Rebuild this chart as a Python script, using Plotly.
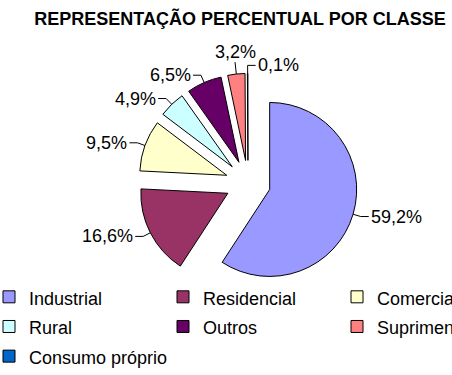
import math
import plotly.graph_objects as go

# Share of consumption by consumer class (%)
categories = ["Industrial", "Residencial", "Comercial", "Rural", "Outros",
              "Suprimento", "Consumo próprio"]
values = [59.2, 16.6, 9.5, 4.9, 6.5, 3.2, 0.1]
colors = ["#9999FF", "#993366", "#FFFFCC", "#CCFFFF", "#660066",
          "#FF8080", "#0066CC"]
title_text = "REPRESENTAÇÃO PERCENTUAL POR CLASSE"

# Canvas: wider than the visible page so the three legend columns keep
# their spacing; the page shows a 452 px window starting at SHIFT.
W, H = 540, 375
VISIBLE_W = 452
SHIFT = 11
M_B = 82
PLOT_H = H - M_B

# Pie geometry in page pixels
CX, CY = 248, 183
R = 87
PULL = 0.26
OUTER = R * (1 + PULL)

FONT = "Liberation Sans, Arial, sans-serif"
LABEL_SIZE = 18


def px_to_paper(x, y):
    return (x + SHIFT) / W, 1 - y / PLOT_H


dom_x = [(CX + SHIFT - OUTER) / W, (CX + SHIFT + OUTER) / W]
dom_y = [1 - (CY + OUTER) / PLOT_H, 1 - (CY - OUTER) / PLOT_H]

legend_names = [f"<span style='font-size:{LABEL_SIZE}px'>{c}</span>"
                for c in categories]

fig = go.Figure(go.Pie(
    labels=legend_names,
    values=values,
    sort=False,
    direction="clockwise",
    rotation=0,
    pull=[PULL] * len(values),
    marker=dict(colors=colors, line=dict(color="#000000", width=1)),
    textinfo="none",
    hovertext=categories,
    hoverinfo="text+percent",
    domain=dict(x=dom_x, y=dom_y),
))

# Value labels with leader lines, placed from each slice's mid-angle
total = sum(values)
cum = 0.0
annotations = []
shapes = []
placed = []
for v in values:
    mid = (cum + v / 2) / total * 2 * math.pi
    cum += v
    dx, dy = math.sin(mid), -math.cos(mid)
    ax, ay = CX + PULL * R * dx, CY + PULL * R * dy
    ex, ey = ax + R * dx, ay + R * dy

    if abs(dx) < 0.3:
        side = "top"
        if placed and placed[-1][0] == "top" and abs(ex - placed[-1][1]) < 40:
            side = "right" if dx >= placed[-1][2] else "left"
    else:
        side = "right" if dx > 0 else "left"

    text = f"{v:.1f}%".replace(".", ",")
    if side == "top":
        kx, ky = ex + 12 * dx, ey + 12 * dy
        path_pts = [(ex, ey), (kx, ky)]
        tx, ty, xa, ya = kx, ky + 1, "center", "bottom"
    else:
        kx, ky = ex + 8 * dx, ey + 8 * dy
        sgn = 1 if side == "right" else -1
        tx_end = kx + 8 * sgn
        path_pts = [(ex, ey), (kx, ky), (tx_end, ky)]
        tx, ty = tx_end + sgn, ky
        xa, ya = ("left" if sgn > 0 else "right"), "middle"
    placed.append((side, ex, dx))

    pts = [px_to_paper(x, y) for x, y in path_pts]
    path = "M " + " L ".join(f"{x:.5f},{y:.5f}" for x, y in pts)
    shapes.append(dict(type="path", xref="paper", yref="paper", path=path,
                       line=dict(color="#000000", width=1)))
    px, py = px_to_paper(tx, ty)
    annotations.append(dict(x=px, y=py, xref="paper", yref="paper",
                            text=text, showarrow=False, xanchor=xa,
                            yanchor=ya, borderpad=0,
                            font=dict(family=FONT, size=LABEL_SIZE,
                                      color="#000000")))

fig.update_layout(
    width=W, height=H, autosize=False,
    margin=dict(l=0, r=0, t=0, b=M_B, autoexpand=False),
    paper_bgcolor="#FFFFFF", plot_bgcolor="#FFFFFF",
    font=dict(family=FONT, color="#000000"),
    title=dict(text=title_text, xref="container", yref="container",
               x=(240 + SHIFT) / W, y=1 - 19 / H,
               xanchor="center", yanchor="middle",
               font=dict(family=FONT, size=18, weight=700, color="#000000")),
    showlegend=True,
    legend=dict(orientation="h", x=0, xanchor="left",
                y=1 - 277 / PLOT_H, yanchor="top", traceorder="normal",
                entrywidth=129, entrywidthmode="pixels",
                font=dict(family=FONT, size=20.5, color="#000000"),
                bgcolor="rgba(0,0,0,0)"),
    annotations=annotations,
    shapes=shapes,
)

post = ("var gd=document.getElementById('{plot_id}');"
        f"gd.style.marginLeft='-{SHIFT}px';"
        f"document.body.style.margin='0';document.body.style.overflow='hidden';"
        f"document.documentElement.style.overflow='hidden';")
fig.write_html("out.html", post_script=post)
